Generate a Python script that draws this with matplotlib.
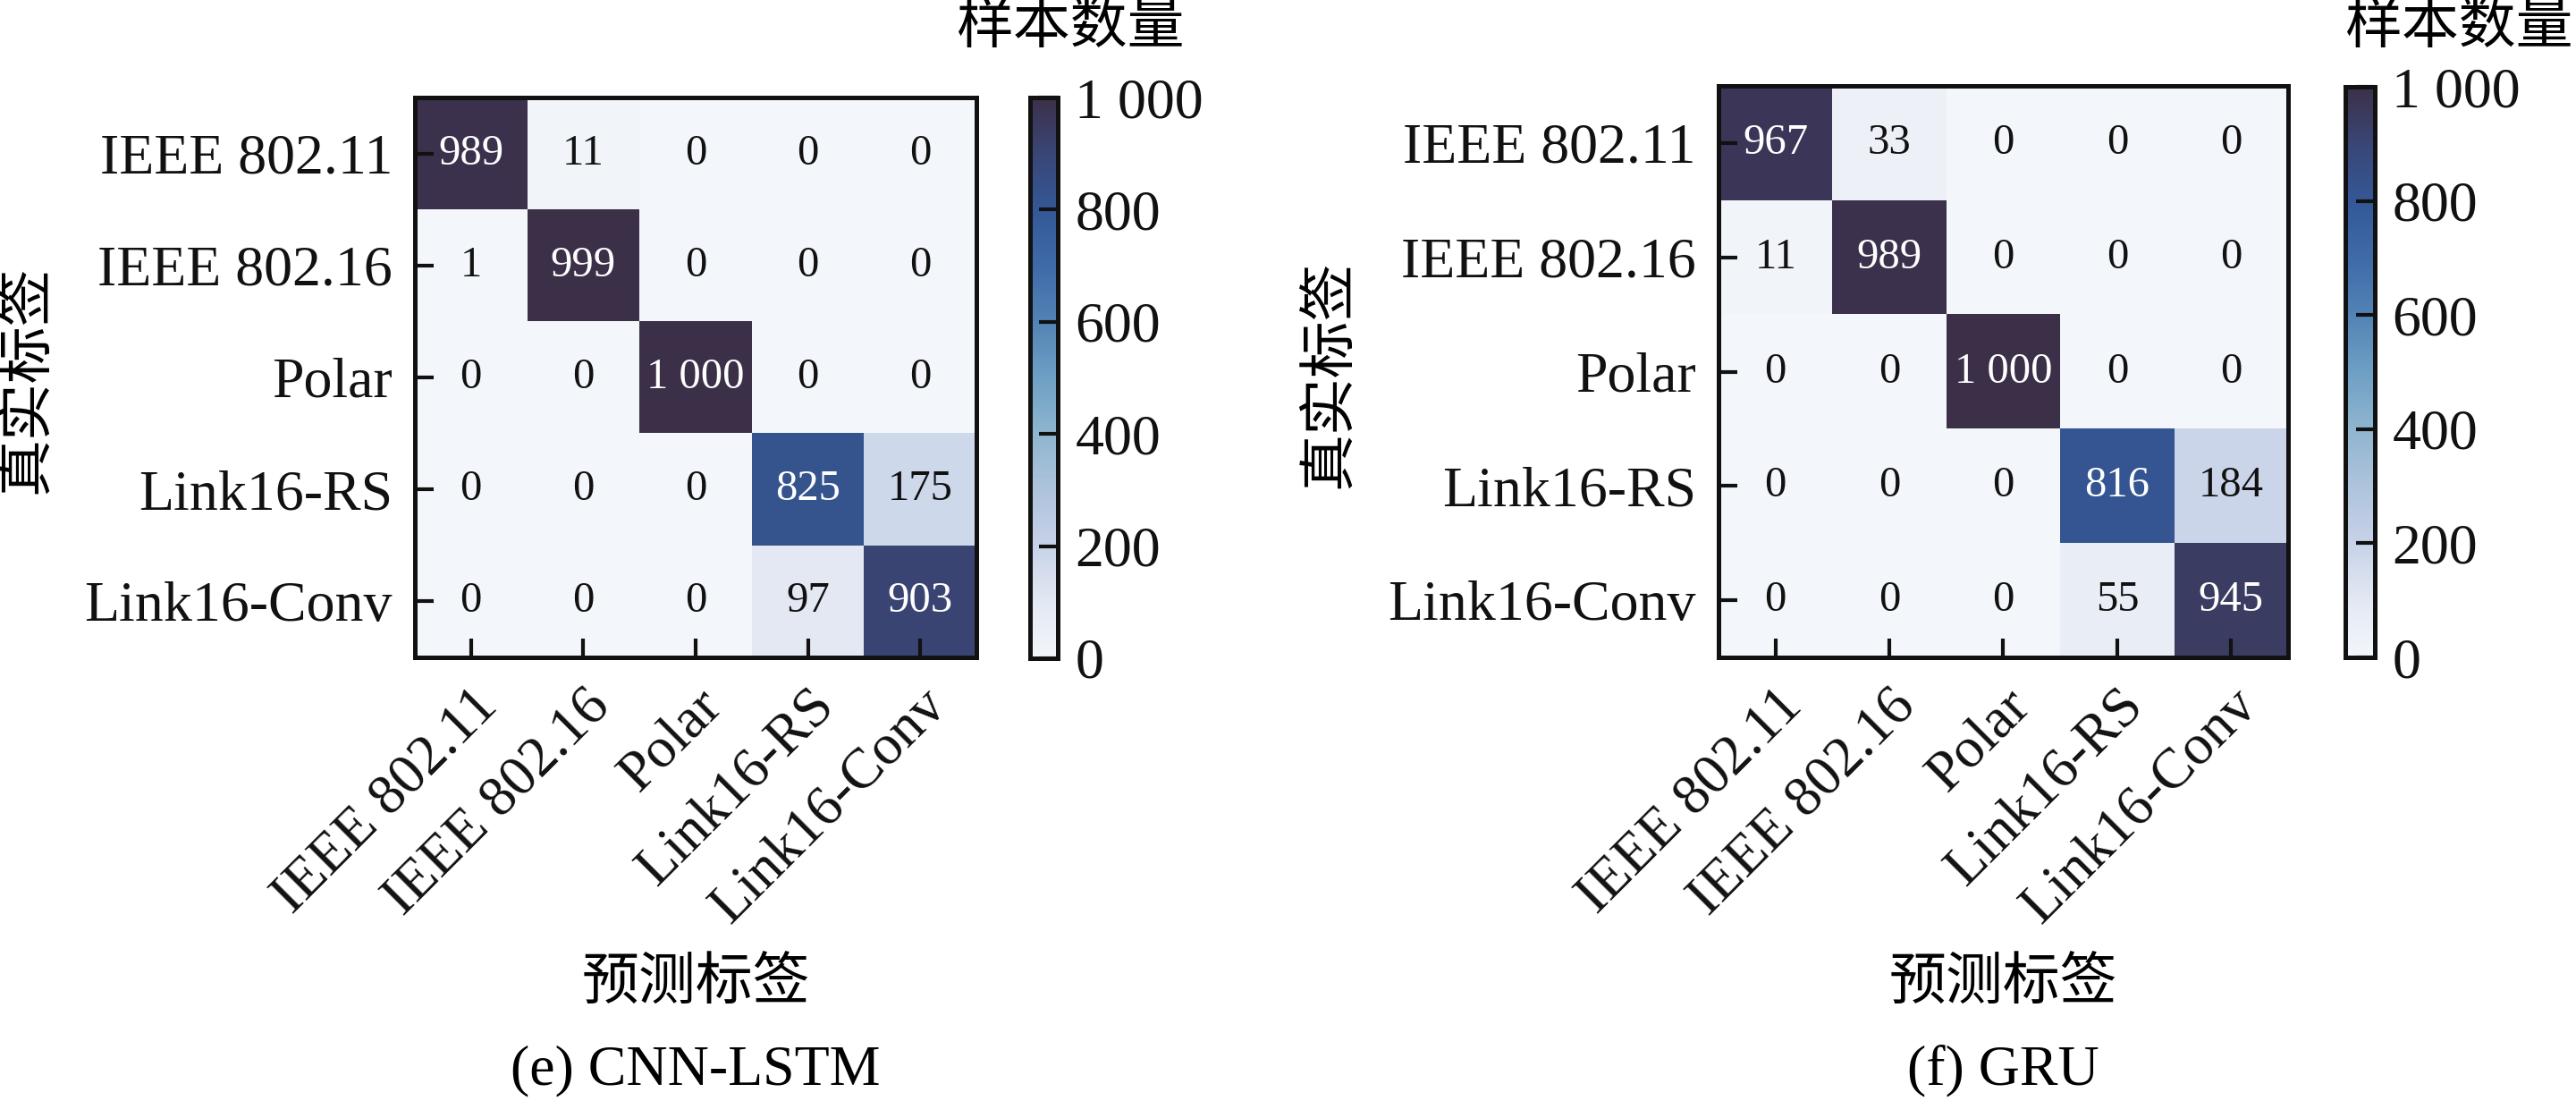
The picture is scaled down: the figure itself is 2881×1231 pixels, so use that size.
import matplotlib
matplotlib.use("Agg")
import matplotlib.pyplot as plt
import numpy as np
from matplotlib.colors import LinearSegmentedColormap
from matplotlib.ticker import FuncFormatter

plt.rcParams['font.family'] = ['Liberation Serif', 'Noto Sans CJK SC']

#### Data ####

classes = ['IEEE 802.11', 'IEEE 802.16', 'Polar', 'Link16-RS', 'Link16-Conv']

cnn_lstm = [[989, 11, 0, 0, 0],
            [1, 999, 0, 0, 0],
            [0, 0, 1000, 0, 0],
            [0, 0, 0, 825, 175],
            [0, 0, 0, 97, 903]]

gru = [[967, 33, 0, 0, 0],
       [11, 989, 0, 0, 0],
       [0, 0, 1000, 0, 0],
       [0, 0, 0, 816, 184],
       [0, 0, 0, 55, 945]]

captions = ['(e) CNN-LSTM', '(f) GRU']
cbar_ticks = [0, 200, 400, 600, 800, 1000]

#### Style ####

W, H = 2881, 1231
DPI = 100
FS = 46
ANN_FS = 35

cmap = LinearSegmentedColormap.from_list('cm_blue', [
    (0.0, '#f3f6fa'), (0.1, '#e2e8f3'), (0.2, '#c7d2e8'), (0.3, '#aec3dc'),
    (0.4, '#8fb5cf'), (0.5, '#6e9fc4'), (0.6, '#5283b5'), (0.7, '#3f6aa8'),
    (0.8, '#345897'), (0.9, '#394676'), (1.0, '#3c3049')])


def px(x0, y0, x1, y1):
    # pixel box (top-left origin) -> figure fraction rect
    return [x0 / W, 1 - y1 / H, (x1 - x0) / W, (y1 - y0) / H]


def thousands(v, pos=None):
    return f'{int(v):,}'.replace(',', ' ')


def draw_cm(fig, mat, box, cbox, ylab_xy, cbar_lab_xy, xlab_xy, cap_xy, caption):
    mat = np.array(mat)
    ax = fig.add_axes(px(*box))
    im = ax.imshow(mat, cmap=cmap, vmin=0, vmax=1000, aspect='auto',
                   interpolation='nearest')
    n = len(classes)
    for i in range(n):
        for j in range(n):
            v = mat[i, j]
            ax.text(j, i, thousands(v), ha='center', va='center',
                    fontsize=ANN_FS, color='white' if v > 500 else '#111111')
    ax.set_xticks(range(n))
    ax.set_yticks(range(n))
    ax.set_xticklabels(classes, rotation=45, ha='right', rotation_mode='anchor')
    ax.set_yticklabels(classes)
    ax.tick_params(direction='in', length=15, width=3, labelsize=FS, pad=18,
                   colors='#111111')
    for s in ax.spines.values():
        s.set_linewidth(3.6)
        s.set_color('#111111')

    cax = fig.add_axes(px(*cbox))
    cb = fig.colorbar(im, cax=cax, ticks=cbar_ticks)
    cb.outline.set_linewidth(3.6)
    cb.outline.set_edgecolor('#111111')
    cax.yaxis.set_major_formatter(FuncFormatter(thousands))
    cax.tick_params(direction='in', length=15, width=3, labelsize=FS, pad=14,
                    colors='#111111')

    fig.text(ylab_xy[0] / W, 1 - ylab_xy[1] / H, '真实标签', rotation=90,
             ha='center', va='center', fontsize=FS)
    fig.text(cbar_lab_xy[0] / W, 1 - cbar_lab_xy[1] / H, '样本数量',
             ha='center', va='center', fontsize=FS)
    fig.text(xlab_xy[0] / W, 1 - xlab_xy[1] / H, '预测标签',
             ha='center', va='center', fontsize=FS)
    fig.text(cap_xy[0] / W, 1 - cap_xy[1] / H, caption,
             ha='center', va='center', fontsize=FS)


fig = plt.figure(figsize=(W / DPI, H / DPI), dpi=DPI)

draw_cm(fig, cnn_lstm, (464, 109, 1092, 735), (1152, 109, 1183, 736),
        (31, 424), (1197, 33), (778, 1102), (778, 1197), captions[0])
draw_cm(fig, gru, (1922, 96, 2559, 735), (2623, 97, 2656, 735),
        (1488, 418), (2750, 33), (2240, 1102), (2240, 1197), captions[1])

fig.savefig('out.png', dpi=DPI)
